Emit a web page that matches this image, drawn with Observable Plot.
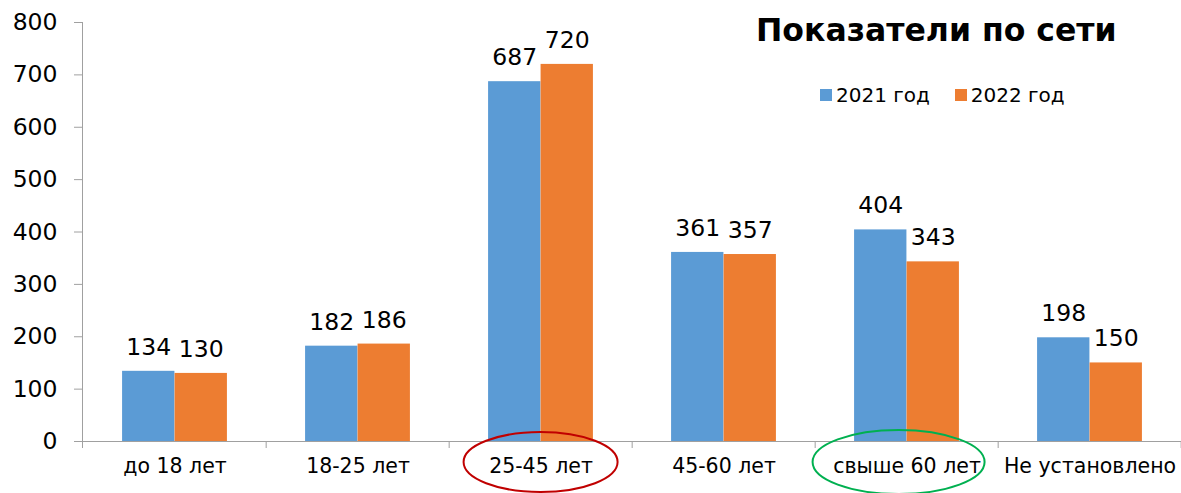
<!DOCTYPE html>
<html><head><meta charset="utf-8">
<script src="https://cdn.jsdelivr.net/npm/d3@7"></script>
<script src="https://cdn.jsdelivr.net/npm/@observablehq/plot@0.6"></script>
<style>
body{margin:0;background:#fff;font-family:"DejaVu Sans",sans-serif}
#wrap{position:relative;width:1181px;height:493px;overflow:hidden}
#title{position:absolute;left:756px;top:12px;font:bold 31.5px "DejaVu Sans";color:#000;white-space:nowrap;line-height:1.2}
#legend{position:absolute;left:820px;top:83px;font:20px "DejaVu Sans";color:#000;white-space:nowrap;display:flex;gap:0}
#legend span.item{display:inline-flex;align-items:center;margin-right:25px}
#legend span.sw{display:inline-block;width:12px;height:12px;margin-right:4px}
</style></head>
<body><div id="wrap"><div id="chart"></div><div id="title"></div><div id="legend"></div></div>
<script>
const categories = ["до 18 лет","18-25 лет","25-45 лет","45-60 лет","свыше 60 лет","Не установлено"];
const values2021 = [134,182,687,361,404,198];
const values2022 = [130,186,720,357,343,150];
const seriesNames = ["2021 год","2022 год"];
const seriesColors = ["#5B9BD5","#ED7D31"];
const yTicks = [0,100,200,300,400,500,600,700,800];
const titleText = "Показатели по сети";
const circled = ["25-45 лет","свыше 60 лет"];
const circledColors = ["#C00000","#00B050"];

const W = 1181, H = 493, ML = 82, MR = 0, MT = 22, MB = 52;
const bw = (W - ML - MR) / categories.length;
const barW = 52.5;
const half = bw / 2;

const d2021 = categories.map((c,i)=>({cat:c, v:values2021[i]}));
const d2022 = categories.map((c,i)=>({cat:c, v:values2022[i]}));
const font = "DejaVu Sans";

const plot = Plot.plot({
  width: W, height: H,
  marginLeft: ML, marginRight: MR, marginTop: MT, marginBottom: MB,
  style: {fontFamily: font, background: "#fff", overflow: "visible"},
  x: {domain: categories, padding: 0, label: null},
  y: {domain: [0,800], label: null},
  marks: [
    Plot.barY(d2021, {x:"cat", y:"v", fill: seriesColors[0], insetLeft: half - barW, insetRight: half}),
    Plot.barY(d2022, {x:"cat", y:"v", fill: seriesColors[1], insetLeft: half, insetRight: half - barW}),
    Plot.text(d2021, {x:"cat", y:"v", text: d=>String(d.v), dx: -barW/2, dy: -24, fontSize: 23.5, fill:"#000"}),
    Plot.text(d2022, {x:"cat", y:"v", text: d=>String(d.v), dx: barW/2, dy: -24, fontSize: 23.5, fill:"#000"}),
    Plot.ruleY([0], {stroke:"#a0a0a0", strokeWidth: 1}),
    Plot.axisY({ticks: yTicks, tickSize: 8, tickPadding: 17, fontSize: 23.5, stroke:"#a0a0a0", color:"#000", tickFormat: d=>String(d)}),
    Plot.axisX({tickSize: 0, tickPadding: 17, fontSize: 20.5, color:"#000"})
  ]
});
document.getElementById("chart").appendChild(plot);

// axis line and band boundary ticks, from the library's scales
const xs = plot.scale("x"), ys = plot.scale("y");
const svg = d3.select(plot);
const y0 = ys.apply(0), yTop = ys.apply(800);
const g = svg.append("g");
g.append("line").attr("x1", ML+0.5).attr("x2", ML+0.5).attr("y1", yTop).attr("y2", y0+7).attr("stroke","#a0a0a0");
categories.forEach((c)=>{
  const bx = xs.apply(c) + bw;
  g.append("line").attr("x1", bx).attr("x2", bx).attr("y1", y0).attr("y2", y0+7).attr("stroke","#a0a0a0");
});
circled.forEach((c,i)=>{
  const cx = xs.apply(c) + half + (i===0 ? 0 : -8);
  g.append("ellipse").attr("cx", cx).attr("cy", y0+21).attr("rx", i===0?77:86).attr("ry", i===0?30:32)
    .attr("fill","none").attr("stroke", circledColors[i]).attr("stroke-width", 2);
});

document.getElementById("title").textContent = titleText;
const leg = document.getElementById("legend");
seriesNames.forEach((n,i)=>{
  const it = document.createElement("span"); it.className="item";
  const sw = document.createElement("span"); sw.className="sw"; sw.style.background = seriesColors[i];
  it.appendChild(sw); it.appendChild(document.createTextNode(n)); leg.appendChild(it);
});
</script></body></html>
